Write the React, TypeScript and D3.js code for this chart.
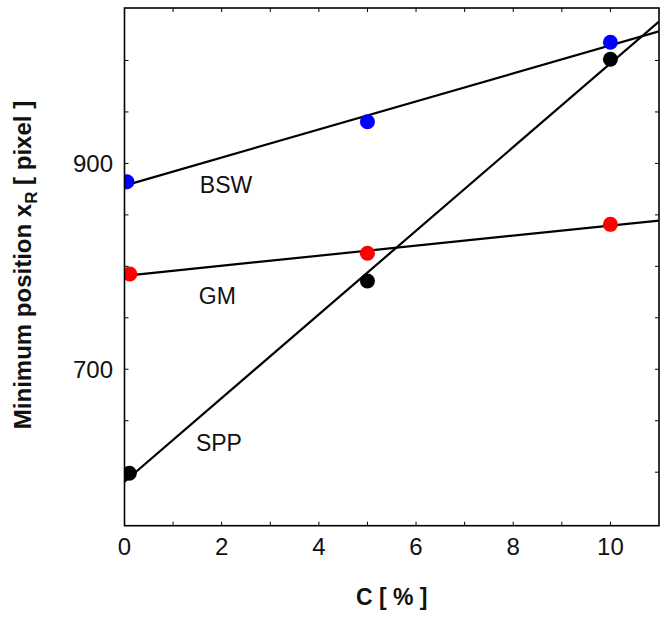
import React from "react";
import * as d3 from "d3";

// ---- data ----
const seriesNames = ["BSW", "GM", "SPP"];
const seriesColors = ["#0000ff", "#ff0000", "#000000"];
const bswC = [0.05, 5, 10];
const bswX = [882.2, 940.5, 1017.7];
const gmC = [0.11, 5, 10];
const gmX = [792.6, 812.7, 840.8];
const sppC = [0.1, 5, 10];
const sppX = [598.9, 785.8, 1001.2];
// label anchors in data units (C, x_R)
const labelC = [1.55, 1.53, 1.47];
const labelX = [871.3, 763.4, 620.6];

const xTicks = [0, 1, 2, 3, 4, 5, 6, 7, 8, 9, 10];
const xTickLabels = [0, 2, 4, 6, 8, 10];
const yTicks = [600, 650, 700, 750, 800, 850, 900, 950, 1000];
const yTickLabels = [700, 900];

const W = 664;
const H = 618;
const L = 124.5, R = 659, T = 8, B = 525.7;

function fit(xs: number[], ys: number[]) {
  const mx = d3.mean(xs)!;
  const my = d3.mean(ys)!;
  let num = 0, den = 0;
  xs.forEach((x, i) => {
    num += (x - mx) * (ys[i] - my);
    den += (x - mx) * (x - mx);
  });
  const slope = num / den;
  return { slope, intercept: my - slope * mx };
}

export default function App() {
  const x = d3.scaleLinear().domain([0, 11]).range([L, R]);
  const y = d3.scaleLinear().domain([548, 1051]).range([B, T]);
  const series = [
    { c: bswC, v: bswX },
    { c: gmC, v: gmX },
    { c: sppC, v: sppX },
  ];
  const line = d3
    .line<[number, number]>()
    .x((d) => x(d[0]))
    .y((d) => y(d[1]));
  const font = "Arial, 'Liberation Sans', sans-serif";
  const tl = 4;

  return (
    <svg
      width={W}
      height={H}
      style={{ position: "absolute", left: 0, top: 0, background: "#fff" }}
      fontFamily={font}
    >
      <defs>
        <clipPath id="plot">
          <rect x={L} y={T} width={R - L} height={B - T} />
        </clipPath>
      </defs>
      <rect x={0} y={0} width={W} height={H} fill="#fff" />
      <g clipPath="url(#plot)">
        {series.map((s, i) => {
          const f = fit(s.c, s.v);
          const pts: [number, number][] = [0, 11].map((c) => [c, f.intercept + f.slope * c]);
          return (
            <path key={"l" + i} d={line(pts)!} fill="none" stroke="#000" strokeWidth={2.2} />
          );
        })}
        {series.map((s, i) =>
          s.c.map((c, j) => (
            <circle
              key={`p${i}-${j}`}
              cx={x(c)}
              cy={y(s.v[j])}
              r={7.5}
              fill={seriesColors[i]}
            />
          ))
        )}
      </g>
      {/* ticks */}
      {xTicks.map((t) => (
        <g key={"xt" + t}>
          <line x1={x(t)} x2={x(t)} y1={B} y2={B - tl} stroke="#000" strokeWidth={1} />
          <line x1={x(t)} x2={x(t)} y1={T} y2={T + tl} stroke="#000" strokeWidth={1} />
        </g>
      ))}
      {yTicks.map((t) => (
        <g key={"yt" + t}>
          <line x1={L} x2={L + tl} y1={y(t)} y2={y(t)} stroke="#000" strokeWidth={1} />
          <line x1={R} x2={R - tl} y1={y(t)} y2={y(t)} stroke="#000" strokeWidth={1} />
        </g>
      ))}
      <rect x={L} y={T} width={R - L} height={B - T} fill="none" stroke="#000" strokeWidth={1.6} />
      {xTickLabels.map((t) => (
        <text key={"xl" + t} x={x(t)} y={555} textAnchor="middle" fontSize={24} fill="#111">
          {t}
        </text>
      ))}
      {yTickLabels.map((t) => (
        <text key={"yl" + t} x={113} y={y(t) + 8.5} textAnchor="end" fontSize={24} fill="#111">
          {t}
        </text>
      ))}
      {seriesNames.map((n, i) => (
        <text key={"n" + i} x={x(labelC[i])} y={y(labelX[i])} fontSize={23} fill="#111">
          {n}
        </text>
      ))}
      <text x={(L + R) / 2} y={605} textAnchor="middle" fontSize={23} fontWeight="bold" fill="#111">
        C [ % ]
      </text>
      <text
        transform={`translate(31, 265) rotate(-90)`}
        textAnchor="middle"
        fontSize={24}
        fontWeight="bold"
        fill="#111"
      >
        Minimum position x
        <tspan dy={6} fontSize={17}>R</tspan>
        <tspan dy={-6}> [ pixel ]</tspan>
      </text>
    </svg>
  );
}
